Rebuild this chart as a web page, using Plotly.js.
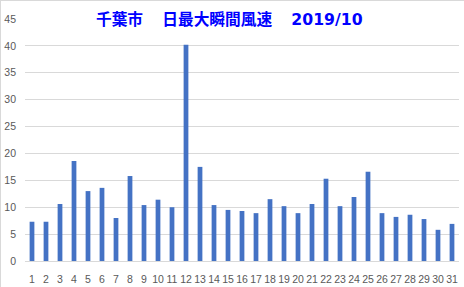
<!DOCTYPE html>
<html>
<head>
<meta charset="utf-8">
<script src="https://cdn.plot.ly/plotly-3.0.1.min.js"></script>
<style>
html, body { margin: 0; padding: 0; background: #fff; }
#wrap { width: 464px; height: 287px; box-sizing: border-box; border-top: 1px solid #d9d9d9; border-left: 1px solid #d9d9d9; overflow: hidden; }
#chart { width: 463px; height: 286px; }
</style>
</head>
<body>
<div id="wrap"><div id="chart"></div></div>
<script>
const days = ["1","2","3","4","5","6","7","8","9","10","11","12","13","14","15","16","17","18","19","20","21","22","23","24","25","26","27","28","29","30","31"];
const gustSpeed = [7.3, 7.3, 10.6, 18.6, 13.0, 13.6, 8.0, 15.8, 10.4, 11.4, 10.0, 40.2, 17.5, 10.4, 9.5, 9.3, 8.9, 11.5, 10.2, 8.9, 10.6, 15.3, 10.2, 11.9, 16.6, 8.9, 8.2, 8.6, 7.8, 5.8, 6.9];
const yTicks = [0, 5, 10, 15, 20, 25, 30, 35, 40, 45];
const titlePlace = "千葉市";
const titleMetric = "日最大瞬間風速";
const titleMonth = "2019/10";

const tickFont = { family: "Liberation Sans, Arial, sans-serif", size: 10.5, color: "#595959" };

const titleHtml = "<b>" + titlePlace + "　 " + titleMetric + "　 " +
  "<span style=\"font-family:'DejaVu Sans'\">" + titleMonth + "</span></b>";

Plotly.newPlot("chart", [{
  type: "bar",
  x: days,
  y: gustSpeed,
  marker: { color: "#4472C4" },
  hoverinfo: "x+y"
}], {
  width: 463,
  height: 286,
  margin: { l: 24.3, r: 5, t: 18, b: 26 },
  paper_bgcolor: "#ffffff",
  plot_bgcolor: "#ffffff",
  bargap: 0.66,
  showlegend: false,
  title: {
    text: titleHtml,
    font: { family: "Noto Sans CJK JP, sans-serif", size: 15.7, color: "#0000FF" },
    xref: "container", x: 0.493, xanchor: "center",
    yref: "container", y: 0.937, yanchor: "middle"
  },
  xaxis: {
    type: "category",
    tickfont: tickFont,
    showgrid: false,
    showline: false,
    zeroline: false,
    ticks: "",
    ticklabelstandoff: 10,
    fixedrange: true
  },
  yaxis: {
    range: [0, 45],
    tickvals: yTicks,
    ticktext: yTicks.map(String),
    tickfont: tickFont,
    gridcolor: "#d9d9d9",
    gridwidth: 1,
    zeroline: true,
    zerolinecolor: "#d9d9d9",
    zerolinewidth: 1,
    showline: false,
    ticks: "",
    ticklabelstandoff: 8,
    fixedrange: true
  }
}, { displayModeBar: false, staticPlot: true });
</script>
</body>
</html>
